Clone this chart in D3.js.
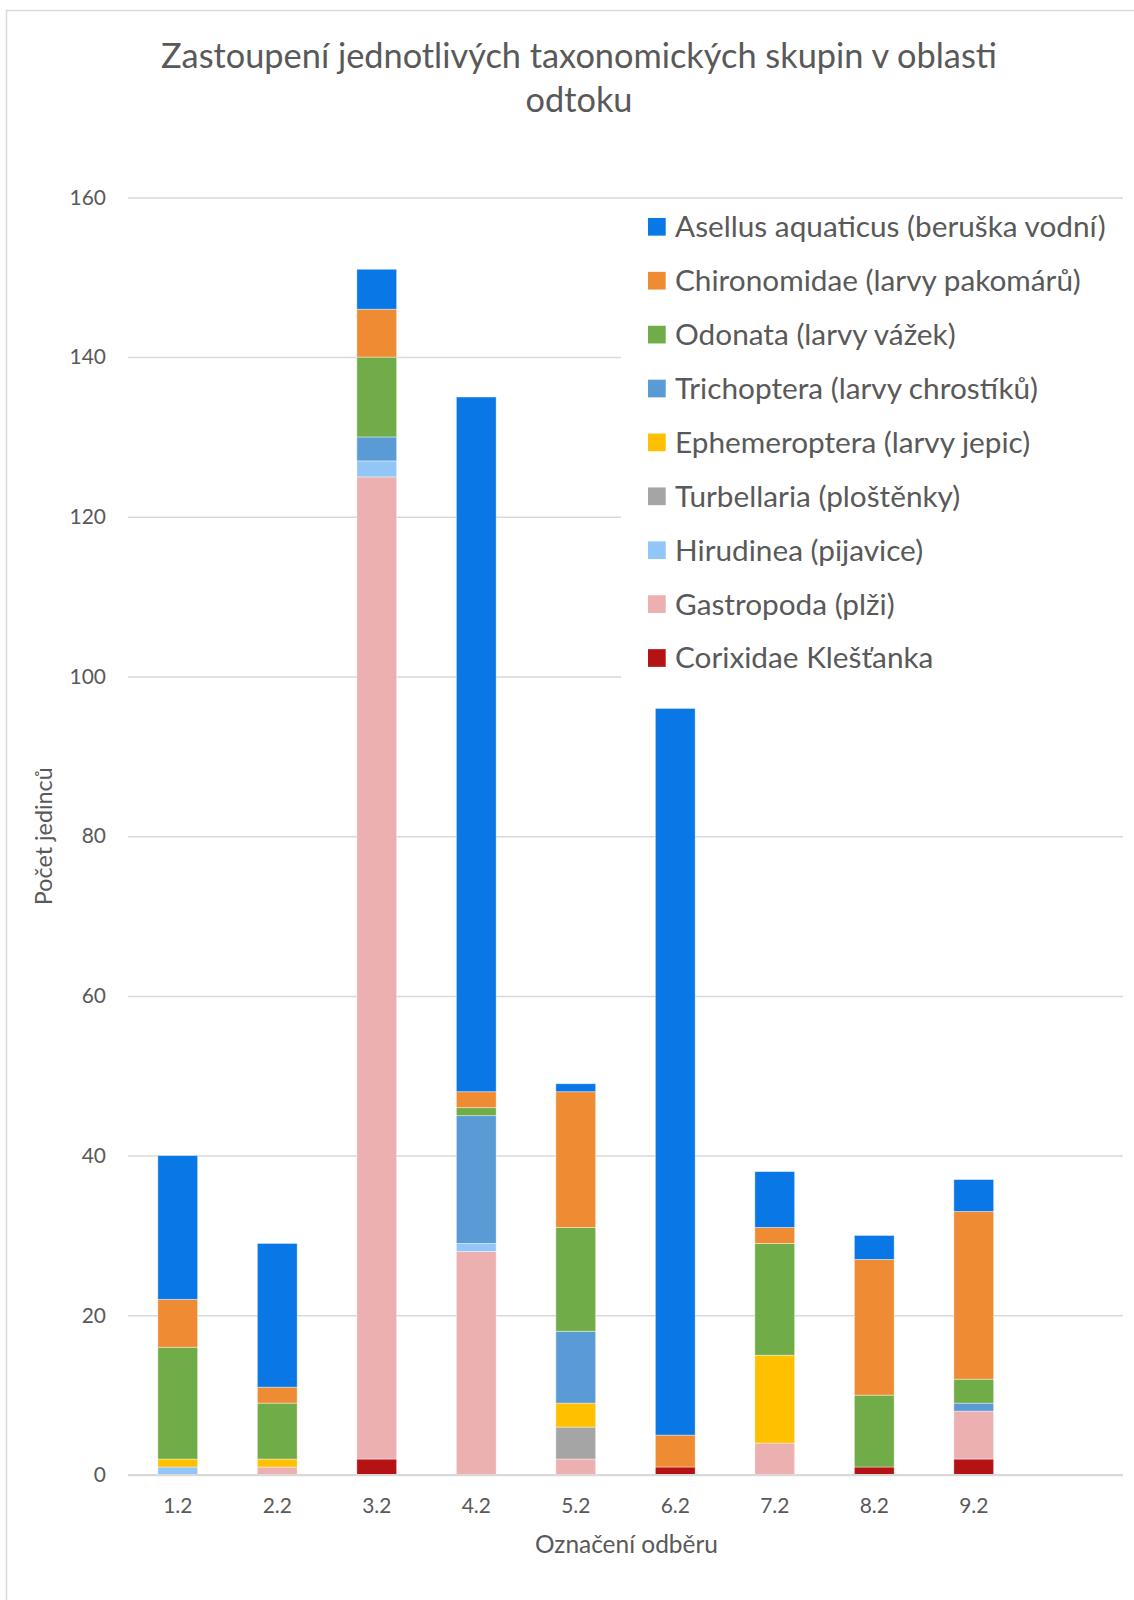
<!DOCTYPE html>
<html>
<head>
<meta charset="utf-8">
<script src="https://cdn.jsdelivr.net/npm/d3@7"></script>
<style>
  body { margin: 0; background: #fff; }
  svg { display: block; }
  text { font-family: Lato, "Open Sans", sans-serif; fill: #595959; }
</style>
</head>
<body>
<svg id="chart" width="1134" height="1600"></svg>
<script>
// Sampling points (odběr) along the outflow
const categories = ["1.2", "2.2", "3.2", "4.2", "5.2", "6.2", "7.2", "8.2", "9.2"];

// Counts per taxonomic group at each sampling point
const asellus       = [18, 18,   5, 87,  1, 91,  7,  3,  4];
const chironomidae  = [ 6,  2,   6,  2, 17,  4,  2, 17, 21];
const odonata       = [14,  7,  10,  1, 13,  0, 14,  9,  3];
const trichoptera   = [ 0,  0,   3, 16,  9,  0,  0,  0,  1];
const ephemeroptera = [ 1,  1,   0,  0,  3,  0, 11,  0,  0];
const turbellaria   = [ 0,  0,   0,  0,  4,  0,  0,  0,  0];
const hirudinea     = [ 1,  0,   2,  1,  0,  0,  0,  0,  0];
const gastropoda    = [ 0,  1, 123, 28,  2,  0,  4,  0,  6];
const corixidae     = [ 0,  0,   2,  0,  0,  1,  0,  1,  2];

// Legend order (top of the stack first)
const seriesNames = [
  "Asellus aquaticus (beruška vodní)",
  "Chironomidae (larvy pakomárů)",
  "Odonata (larvy vážek)",
  "Trichoptera (larvy chrostíků)",
  "Ephemeroptera (larvy jepic)",
  "Turbellaria (ploštěnky)",
  "Hirudinea (pijavice)",
  "Gastropoda (plži)",
  "Corixidae Klešťanka"
];
const seriesValues = [asellus, chironomidae, odonata, trichoptera, ephemeroptera,
                      turbellaria, hirudinea, gastropoda, corixidae];
const seriesColors = ["#0977e5", "#ef8c33", "#70ac47", "#5b9bd5", "#ffc000",
                      "#a5a5a5", "#93c6f8", "#ecb0b0", "#b51313"];

const yTicks = [0, 20, 40, 60, 80, 100, 120, 140, 160];
const titleLines = ["Zastoupení jednotlivých taxonomických skupin v oblasti", "odtoku"];
const xAxisTitle = "Označení odběru";
const yAxisTitle = "Počet jedinců";

const svg = d3.select("#chart");

// font sizing helper: size a string so it spans a given width
function fitSize(str, targetWidth, guess) {
  const t = svg.append("text").attr("font-size", guess).text(str);
  const w = t.node().getComputedTextLength();
  t.remove();
  return guess * targetWidth / w;
}
const titleSize = fitSize(titleLines[0], 836, 34);
const legendSize = fitSize(seriesNames[0], 431, 28);
const tickSize = fitSize("80", 24.3, 23);
const xTitleSize = fitSize(xAxisTitle, 183, 25);
const yTitleSize = fitSize(yAxisTitle, 138, 25);

// chart area outline
svg.append("rect")
  .attr("x", 6.5).attr("y", 10.5)
  .attr("width", 1200).attr("height", 1700)
  .attr("fill", "none").attr("stroke", "#d9d9d9").attr("stroke-width", 1.5);

// plot geometry
const plotLeft = 128, plotRight = 1123, plotTop = 197.4, plotBottom = 1475;

// ten equal slots; the last one is left empty
const x = d3.scaleBand()
  .domain(categories.concat([""]))
  .range([plotLeft, plotRight])
  .paddingInner(0.6)
  .paddingOuter(0.3);

const y = d3.scaleLinear().domain([0, 160]).range([plotBottom, plotTop]);

// horizontal gridlines
svg.append("g")
  .attr("transform", `translate(${plotLeft},0)`)
  .call(d3.axisLeft(y).tickValues(yTicks).tickSize(-(plotRight - plotLeft)).tickFormat(""))
  .call(g => g.select(".domain").remove())
  .call(g => g.selectAll("line").attr("stroke", "#d9d9d9").attr("stroke-width", 1.5));

// y tick labels
svg.append("g")
  .attr("transform", `translate(${plotLeft},0)`)
  .call(d3.axisLeft(y).tickValues(yTicks).tickSize(0).tickPadding(22))
  .call(g => g.select(".domain").remove())
  .call(g => g.selectAll("text")
    .attr("font-size", tickSize)
    .attr("font-family", null)
    .attr("fill", "#595959"));

// stacked bars (bottom series first)
const keys = seriesNames.slice().reverse();
const rows = categories.map((c, i) => {
  const r = { cat: c };
  seriesNames.forEach((n, s) => { r[n] = seriesValues[s][i]; });
  return r;
});
const stacked = d3.stack().keys(keys)(rows);
const colorOf = d3.scaleOrdinal().domain(seriesNames).range(seriesColors);

svg.append("g").selectAll("g")
  .data(stacked)
  .join("g")
  .attr("fill", d => colorOf(d.key))
  .selectAll("rect")
  .data(d => d.filter(p => p[1] > p[0]))
  .join("rect")
  .attr("x", d => x(d.data.cat))
  .attr("width", x.bandwidth())
  .attr("y", d => y(d[1]))
  .attr("height", d => y(d[0]) - y(d[1]))
  .attr("stroke", "#ffffff")
  .attr("stroke-opacity", 0.5)
  .attr("stroke-width", 0.8);

// baseline axis
svg.append("g")
  .attr("transform", `translate(0,${plotBottom})`)
  .call(d3.axisBottom(x).tickValues(categories).tickSize(0).tickPadding(23))
  .call(g => g.select(".domain").attr("stroke", "#d9d9d9").attr("stroke-width", 2)
    .attr("d", `M${plotLeft},0H${plotRight}`))
  .call(g => g.selectAll("text")
    .attr("font-size", tickSize)
    .attr("font-family", null)
    .attr("fill", "#595959"));

// legend panel
const legend = svg.append("g");
legend.append("rect")
  .attr("x", 621).attr("y", 204)
  .attr("width", plotRight - 621 + 1).attr("height", 484)
  .attr("fill", "#ffffff");
const item = legend.selectAll("g.item")
  .data(seriesNames)
  .join("g")
  .attr("class", "item")
  .attr("transform", (d, i) => `translate(648,${226.8 + i * 53.9})`);
item.append("rect")
  .attr("x", 0).attr("y", -8.85)
  .attr("width", 17.7).attr("height", 17.7)
  .attr("fill", d => colorOf(d));
item.append("text")
  .attr("x", 27).attr("y", 0)
  .attr("dy", "0.35em")
  .attr("font-size", legendSize)
  .text(d => d);

// title
svg.append("text")
  .attr("x", 579).attr("text-anchor", "middle")
  .attr("font-size", titleSize)
  .selectAll("tspan")
  .data(titleLines)
  .join("tspan")
  .attr("x", 579)
  .attr("y", (d, i) => 68.4 + i * 44)
  .text(d => d);

// axis titles
svg.append("text")
  .attr("x", (plotLeft + plotRight) / 2 + 1)
  .attr("y", 1553)
  .attr("text-anchor", "middle")
  .attr("font-size", xTitleSize)
  .text(xAxisTitle);

svg.append("text")
  .attr("transform", `translate(52,${(plotTop + plotBottom) / 2}) rotate(-90)`)
  .attr("text-anchor", "middle")
  .attr("font-size", yTitleSize)
  .text(yAxisTitle);
</script>
</body>
</html>
